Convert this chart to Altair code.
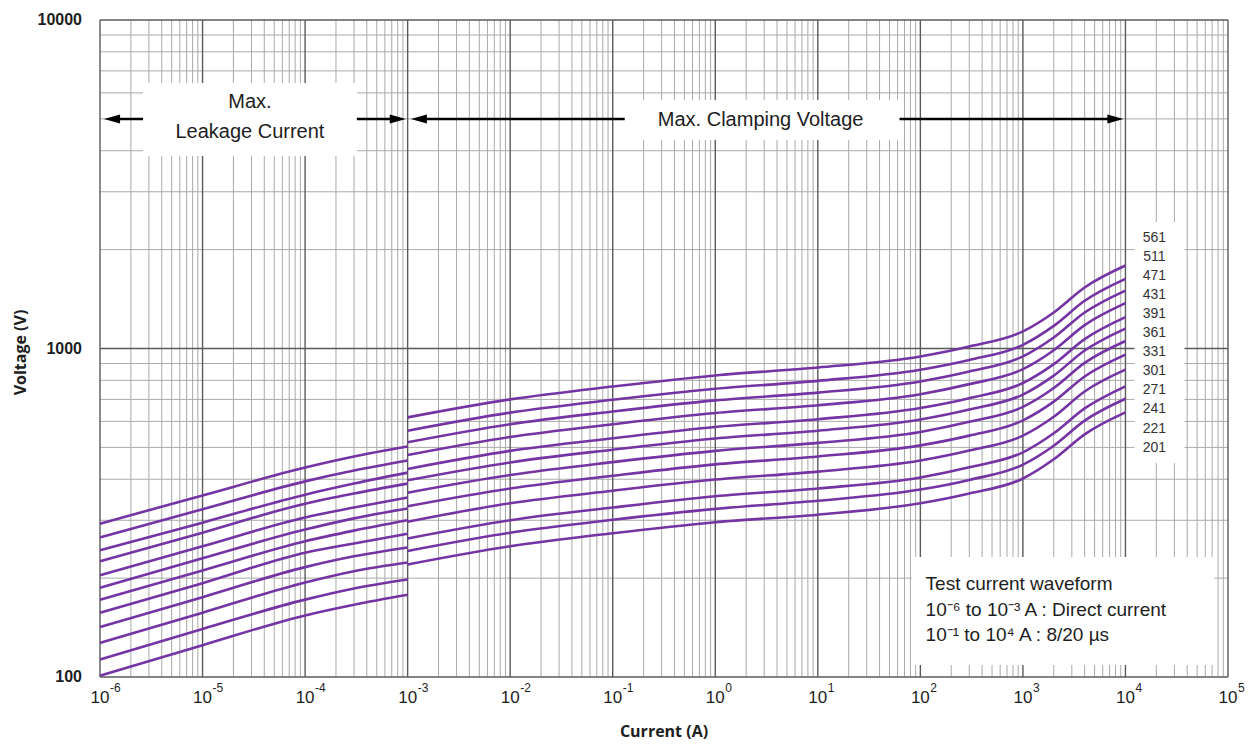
import altair as alt
import pandas as pd

# ---------------- data ----------------
series = ["561", "511", "471", "431", "391", "361", "331", "301", "271", "241", "221", "201"]

# Max. leakage current region (DC)
leak_I = [1e-6, 1e-5, 1e-4, 3e-4, 1e-3]
leak_V = [
    [293, 357, 434, 469, 503],
    [266, 324, 394, 425, 456],
    [243, 295, 359, 388, 419],
    [225, 275, 337, 362, 388],
    [204, 250, 306, 328, 352],
    [187, 230, 281, 304, 326],
    [172, 211, 259, 279, 300],
    [157, 193, 239, 255, 273],
    [142, 175, 216, 233, 248],
    [127, 157, 194, 210, 223],
    [113, 140, 172, 186, 198],
    [101, 125, 154, 166, 178],
]

# Max. clamping voltage region
clamp_I = [1e-3, 1e-2, 1e-1, 1, 10, 100, 300, 1000, 2000, 4000, 1e4]
clamp_V = [
    [617, 700, 766, 828, 875, 946, 1014, 1127, 1287, 1534, 1789],
    [562, 638, 698, 754, 797, 862, 923, 1026, 1172, 1397, 1629],
    [518, 588, 643, 695, 734, 794, 851, 946, 1080, 1287, 1501],
    [474, 538, 588, 636, 672, 726, 779, 865, 988, 1178, 1374],
    [430, 488, 533, 577, 609, 659, 706, 785, 896, 1068, 1246],
    [397, 450, 492, 532, 562, 608, 652, 724, 827, 986, 1150],
    [364, 412, 451, 488, 516, 557, 598, 664, 758, 904, 1054],
    [331, 375, 410, 444, 469, 507, 543, 604, 689, 822, 958],
    [297, 338, 369, 399, 422, 456, 489, 543, 620, 740, 862],
    [264, 300, 328, 355, 375, 405, 435, 483, 552, 657, 767],
    [242, 275, 301, 325, 344, 372, 398, 443, 506, 603, 703],
    [220, 250, 274, 296, 312, 338, 362, 402, 460, 548, 639],
]

x_tick_exps = ["-6", "-5", "-4", "-3", "-2", "-1", "0", "1", "2", "3", "4", "5"]
y_tick_values = [100, 1000, 10000]
x_title = "Current (A)"
y_title = "Voltage  (V)"

# ---------------- tables ----------------
rows = []
for name, vals in zip(series, leak_V):
    for i, v in zip(leak_I, vals):
        rows.append({"I": i, "V": v, "key": name + "_leak"})
for name, vals in zip(series, clamp_V):
    for i, v in zip(clamp_I, vals):
        rows.append({"I": i, "V": v, "key": name + "_clamp"})
df = pd.DataFrame(rows)

x_major = [10.0 ** int(e) for e in x_tick_exps]
x_minor = [m * 10.0 ** e for e in range(-6, 5) for m in range(2, 10)]
y_major = [float(v) for v in y_tick_values]
y_minor = [m * 10.0 ** e for e in (2, 3) for m in range(2, 10)]

W, H = 1128, 657
PURPLE = "#7434a4"
FONT = "Liberation Sans"
TFONT = "Open Sans"
INK = "#1e1e1e"

xs = alt.Scale(type="log", domain=[1e-6, 1e5], nice=False)
ys = alt.Scale(type="log", domain=[100, 10000], nice=False)
one = alt.InlineData(values=[{"a": 1}])


def px_to_V(py):
    # page y pixel -> voltage, for placing annotations
    return 10 ** (4 - (py - 20) / 328.5)


def px_to_I(px):
    return 10 ** (-6 + (px - 100) / 102.6)


def XD(v):
    return alt.XDatum(v, type="quantitative", scale=xs, axis=None)


def YD(v):
    return alt.YDatum(v, type="quantitative", scale=ys, axis=None)


# ---------------- grid ----------------
vminor = alt.Chart(pd.DataFrame({"I": x_minor})).mark_rule(color="#a9a9a9", strokeWidth=1).encode(
    x=alt.X("I:Q", scale=xs, axis=None))
hminor = alt.Chart(pd.DataFrame({"V": y_minor})).mark_rule(color="#a9a9a9", strokeWidth=1).encode(
    y=alt.Y("V:Q", scale=ys, axis=None))
vmajor = alt.Chart(pd.DataFrame({"I": x_major})).mark_rule(color="#5a5a5a", strokeWidth=1.4).encode(
    x=alt.X("I:Q", scale=xs, axis=None))
hmajor = alt.Chart(pd.DataFrame({"V": y_major})).mark_rule(color="#5a5a5a", strokeWidth=1.4).encode(
    y=alt.Y("V:Q", scale=ys, axis=None))


# ---------------- white boxes ----------------
def box(px1, px2, py1, py2):
    return alt.Chart(one).mark_rect(color="white", opacity=1).encode(
        x=XD(px_to_I(px1)), x2=alt.datum(px_to_I(px2)),
        y=YD(px_to_V(py1)), y2=alt.datum(px_to_V(py2)))


boxes = [
    box(143, 357, 83, 156),     # leakage text
    box(625, 900, 100, 140),    # clamping text
    box(1135, 1185, 222, 463),  # series labels
    box(912, 1215, 557, 665),   # test waveform
]

# ---------------- curves ----------------
curves = alt.Chart(df).mark_line(color=PURPLE, strokeWidth=2.6, interpolate="monotone").encode(
    x=alt.X("I:Q", scale=xs, axis=None),
    y=alt.Y("V:Q", scale=ys, axis=None),
    detail="key:N",
)


# ---------------- arrows ----------------
def hline(px1, px2, py):
    return alt.Chart(one).mark_rule(color="black", strokeWidth=2.5).encode(
        x=XD(px_to_I(px1)), x2=alt.datum(px_to_I(px2)), y=YD(px_to_V(py)))


LEFT = "M -1 0 L 1 -0.55 L 1 0.55 Z"
RIGHT = "M 1 0 L -1 -0.55 L -1 0.55 Z"


def head(shape, px, py):
    return alt.Chart(one).mark_point(shape=shape, filled=True, color="black", opacity=1,
                                     size=260, strokeWidth=0).encode(
        x=XD(px_to_I(px)), y=YD(px_to_V(py)))


arrows = [
    hline(112, 143, 119), head(LEFT, 112, 119),
    hline(357, 398, 119), head(RIGHT, 398, 119),
    hline(419, 625, 119), head(LEFT, 419, 119),
    hline(900, 1116, 119), head(RIGHT, 1116, 119),
]


# ---------------- texts ----------------
def txt(s, px, py, size=20, align="center"):
    return alt.Chart(one).mark_text(text=s, font=FONT, fontSize=size, align=align,
                                    baseline="middle", color=INK).encode(
        x=XD(px_to_I(px)), y=YD(px_to_V(py)))


texts = [
    txt("Max.", 250, 102),
    txt("Leakage Current", 250, 132),
    txt("Max. Clamping Voltage", 761, 120),
    txt("Test current waveform", 926, 584, 19, "left"),
    txt("10\u207b\u2076  to 10\u207b\u00b3 A : Direct current", 926, 610, 19, "left"),
    txt("10\u207b\u00b9  to 10\u2074  A : 8/20 \u00b5s", 926, 635, 19, "left"),
]

lab_df = pd.DataFrame({"label": series})
lab_df["V"] = [px_to_V(237.5 + 19.1 * i) for i in range(len(series))]
labels = alt.Chart(lab_df).mark_text(font=FONT, fontSize=14, color="#333", align="center",
                                     baseline="middle").encode(
    x=XD(px_to_I(1155)), y=alt.Y("V:Q", scale=ys, axis=None), text="label:N")

# x tick labels with superscript exponents
xt_df = pd.DataFrame({"I": x_major, "exp": x_tick_exps})
xt_base = alt.Chart(xt_df).mark_text(text="10", font=FONT, fontSize=17, color=INK,
                                     align="center", baseline="middle").encode(
    x=alt.X("I:Q", scale=xs, axis=None), y=alt.value(H + 21))
xt_exp = alt.Chart(xt_df).mark_text(font=FONT, fontSize=12, color=INK,
                                    align="left", baseline="middle", dx=10).encode(
    x=alt.X("I:Q", scale=xs, axis=None), y=alt.value(H + 11), text="exp:N")

# y tick labels
yt_df = pd.DataFrame({"V": y_major, "lab": [str(v) for v in y_tick_values]})
yt = alt.Chart(yt_df).mark_text(font=FONT, fontSize=16, fontWeight="bold", color=INK,
                                align="right", baseline="middle").encode(
    x=alt.value(-18), y=alt.Y("V:Q", scale=ys, axis=None), text="lab:N")

# axis titles
xtitle = alt.Chart(one).mark_text(text=x_title, font=TFONT, fontSize=16, fontWeight="bold",
                                  color=INK, align="center", baseline="middle").encode(
    x=alt.value(W / 2), y=alt.value(H + 55))
ytitle = alt.Chart(one).mark_text(text=y_title, font=TFONT, fontSize=16, fontWeight="bold",
                                  color=INK, align="center", baseline="middle", angle=270).encode(
    x=alt.value(-79), y=alt.value(H / 2 + 4))

chart = alt.layer(
    vminor, hminor, vmajor, hmajor, *boxes, curves, *arrows, *texts, labels,
    xt_base, xt_exp, yt, xtitle, ytitle
).properties(
    width=W, height=H,
    autosize=alt.AutoSizeParams(type="none"),
    padding={"left": 92, "top": 12, "right": 20, "bottom": 68},
).configure(font=FONT).configure_view(stroke=None)

chart.save("out.html", embed_options={"renderer": "svg", "actions": False})
